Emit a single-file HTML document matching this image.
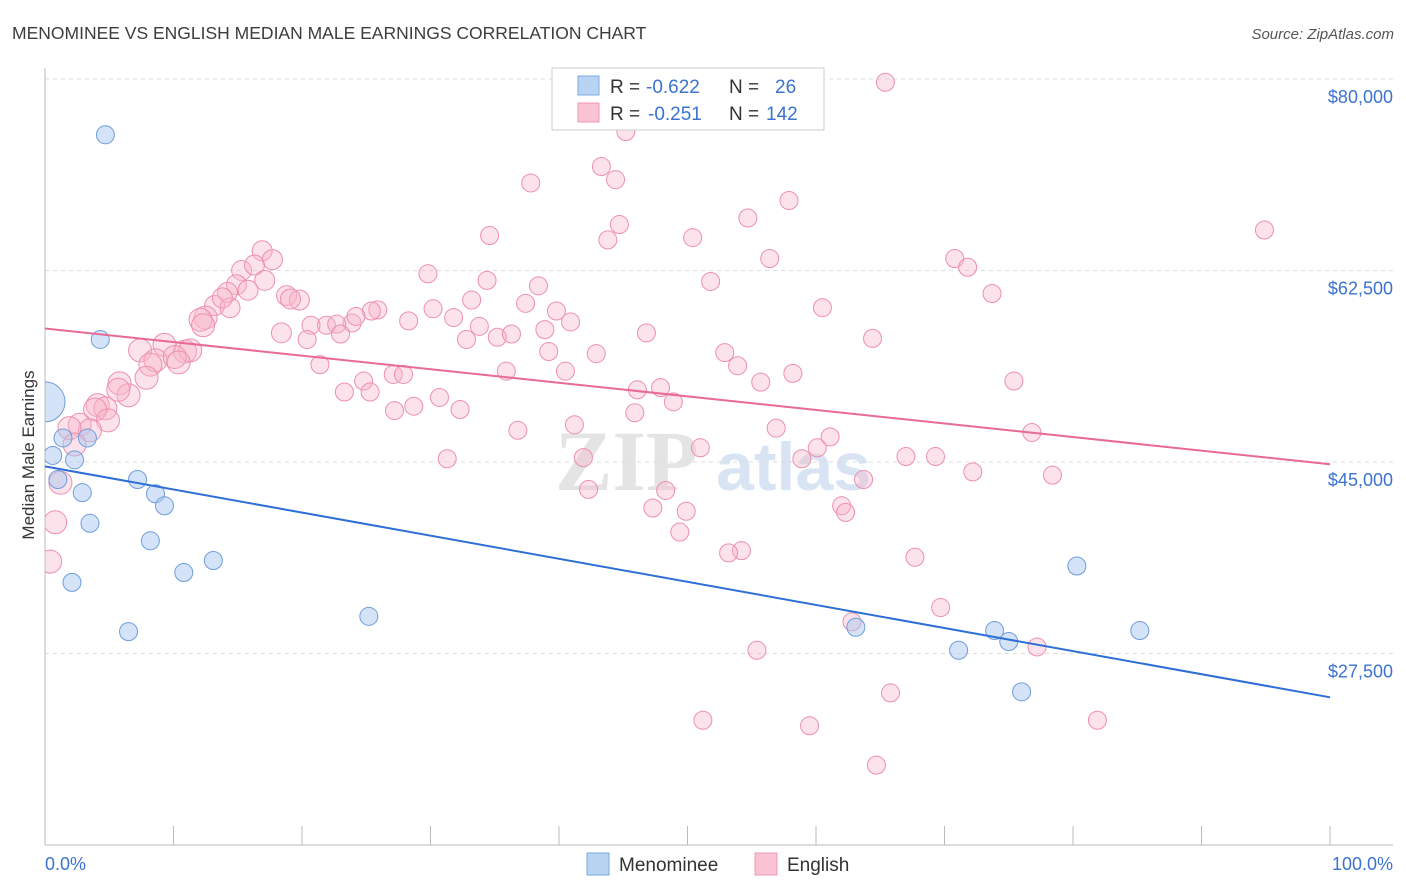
<!DOCTYPE html>
<html><head><meta charset="utf-8"><style>
body{margin:0;background:#fff;font-family:"Liberation Sans",sans-serif;}
svg{display:block}
</style></head><body>
<svg id="chart" width="1406" height="892" viewBox="0 0 1406 892">
<defs><clipPath id="plotclip"><rect x="45" y="60" width="1361" height="785"/></clipPath></defs>
<text x="12" y="39" font-size="17.5" fill="#3d3d3d">MENOMINEE VS ENGLISH MEDIAN MALE EARNINGS CORRELATION CHART</text>
<text x="1394" y="39" font-size="15" fill="#555" font-style="italic" text-anchor="end">Source: ZipAtlas.com</text>
<g><text x="555" y="490" font-size="86" fill="#e4e4e4" font-family="Liberation Serif" font-weight="bold">ZIP</text><text x="716" y="490" font-size="68" fill="#d8e4f4" font-weight="bold">atlas</text></g>
<g id="grid"></g>
<g id="axes"></g>
<g id="pts" clip-path="url(#plotclip)"></g>
<g id="lines"></g>
<text transform="translate(34,455) rotate(-90)" font-size="17" fill="#333" text-anchor="middle">Median Male Earnings</text>
<g>
<rect x="552" y="68" width="272" height="62" fill="#fff" stroke="#ccc"/>
<rect x="578" y="76" width="21" height="19" fill="#b9d3f3" stroke="#7fa8e0"/>
<rect x="578" y="103" width="21" height="19" fill="#f9c3d3" stroke="#ee97b4"/>
<text x="610" y="93" font-size="19" fill="#333">R = <tspan x="646" fill="#3b73d1">-0.622</tspan><tspan x="729">N = </tspan><tspan x="775" fill="#3b73d1">26</tspan></text>
<text x="610" y="120" font-size="19" fill="#333">R = <tspan x="648" fill="#3b73d1">-0.251</tspan><tspan x="729">N = </tspan><tspan x="766" fill="#3b73d1">142</tspan></text>
</g>
<g>
<rect x="587" y="853" width="22" height="22" fill="#b9d3f3" stroke="#7fa8e0"/>
<text x="619" y="871" font-size="19" fill="#333">Menominee</text>
<rect x="755" y="853" width="22" height="22" fill="#f9c3d3" stroke="#ee97b4"/>
<text x="787" y="871" font-size="19" fill="#333">English</text>
</g>
<text x="45" y="870" font-size="18" fill="#3b73d1">0.0%</text>
<text x="1393" y="870" font-size="18" fill="#3b73d1" text-anchor="end">100.0%</text>
</svg>
<script>
const yTicks=[80000,62500,45000,27500];
const yTickLabels=["$80,000","$62,500","$45,000","$27,500"];
const xTicks=[0,10,20,30,40,50,60,70,80,90,100];
const menX=[0,0.6,1.4,1.0,2.3,3.3,2.9,3.5,2.1,4.7,4.3,6.5,7.2,8.6,8.2,9.3,10.8,13.1,25.2,63.1,71.1,73.9,75.0,76.0,80.3,85.2];
const menY=[50.5,45.6,47.2,43.4,45.2,47.2,42.2,39.4,34.0,74.9,56.2,29.5,43.4,42.1,37.8,41.0,34.9,36.0,30.9,29.9,27.8,29.6,28.6,24.0,35.5,29.6];
const engX=[65.4,45.2,43.3,44.4,37.8,57.9,54.7,44.7,43.8,34.6,50.4,94.9,16.9,17.7,56.4,70.8,71.8,29.8,34.4,38.4,51.8,15.3,16.3,14.9,15.8,14.2,13.2,14.4,13.8,12.5,12.1,18.8,19.8,33.2,37.4,39.8,30.2,25.9,25.4,23.9,24.2,21.9,22.7,20.7,18.4,20.4,23.0,28.3,31.8,33.8,40.9,38.9,32.8,35.2,36.3,46.8,60.5,73.7,64.4,12.3,9.3,10.9,11.3,7.4,8.6,10.1,10.4,8.2,7.9,5.8,6.5,5.7,4.1,4.7,3.9,4.9,2.7,3.5,1.9,2.3,1.2,0.8,0.4,21.4,27.1,27.9,24.8,25.3,23.3,27.2,28.7,32.3,30.7,35.9,39.2,42.9,40.5,52.9,53.9,55.7,58.2,46.1,47.9,48.9,45.9,75.4,41.2,36.8,31.3,41.9,42.3,51.0,56.9,61.1,60.1,58.9,76.8,63.7,67.0,69.3,72.2,78.4,47.3,48.3,49.9,49.4,54.2,53.2,62.0,62.3,67.7,69.7,62.8,55.4,77.2,65.8,51.2,59.5,81.9,64.7,19.1,17.1];
const engY=[79.7,75.2,72.0,70.8,70.5,68.9,67.3,66.7,65.3,65.7,65.5,66.2,64.3,63.5,63.6,63.6,62.8,62.2,61.6,61.1,61.5,62.5,63.0,61.2,60.7,60.5,59.3,59.1,60.0,58.2,58.0,60.2,59.8,59.8,59.5,58.8,59.0,58.9,58.8,57.7,58.3,57.5,57.6,57.5,56.8,56.2,56.7,57.9,58.2,57.4,57.8,57.1,56.2,56.4,56.7,56.8,59.1,60.4,56.3,57.5,55.7,55.1,55.2,55.2,54.3,54.6,54.1,53.9,52.7,52.2,51.1,51.6,50.2,49.9,49.8,48.8,48.4,47.9,48.1,46.6,43.1,39.5,35.9,53.9,53.0,53.0,52.4,51.4,51.4,49.7,50.1,49.8,50.9,53.3,55.1,54.9,53.3,55.0,53.8,52.3,53.1,51.6,51.8,50.5,49.5,52.4,48.4,47.9,45.3,45.4,42.5,46.3,48.1,47.3,46.3,45.3,47.7,43.4,45.5,45.5,44.1,43.8,40.8,42.4,40.5,38.6,36.9,36.7,41.0,40.4,36.3,31.7,30.4,27.8,28.1,23.9,21.4,20.9,21.4,17.3,59.9,61.6];
const menTrend=[44.6,23.5];
const engTrend=[57.2,44.8];

const NS="http://www.w3.org/2000/svg";
const X=p=>45+p*12.85;
const Y=v=>79+(80-v)/0.09138;
function mk(tag,attrs,parent){const e=document.createElementNS(NS,tag);for(const k in attrs)e.setAttribute(k,attrs[k]);parent.appendChild(e);return e;}
const grid=document.getElementById('grid'),axes=document.getElementById('axes'),pts=document.getElementById('pts'),lines=document.getElementById('lines');
yTicks.forEach((t,i)=>{
  const y=Y(t/1000);
  const l=mk('line',{x1:45,x2:1393,y1:y,y2:y,stroke:'#dcdcdc','stroke-dasharray':'4,4'},grid);
  
  
  const tx=mk('text',{x:1393,y:y+24,'font-size':18,fill:'#3b73d1','text-anchor':'end'},grid);
  tx.textContent=yTickLabels[i];
  
  
});
const al=mk('line',{x1:45,x2:1393,y1:845,y2:845,stroke:'#bbb'},axes);


const yl=mk('line',{x1:45,x2:45,y1:68,y2:845,stroke:'#bbb'},axes);


xTicks.forEach(t=>{
  const tk=mk('line',{x1:X(t),x2:X(t),y1:826,y2:845,stroke:'#bbb'},axes);
  
  
});
engX.forEach((x,i)=>{
  const r=x<13?11.5:(x<20?10:9);
  const c=mk('circle',{cx:X(x),cy:Y(engY[i]),r:r,fill:'#f7b6ca','fill-opacity':0.4,stroke:'#ee8fae','stroke-width':1},pts);
  
  
});
menX.forEach((x,i)=>{
  const r=i===0?20:9;
  const c=mk('circle',{cx:X(x),cy:Y(menY[i]),r:r,fill:'#a9c8f0','fill-opacity':0.5,stroke:'#6e9ddd','stroke-width':1},pts);
  
  
});
const bl=mk('line',{x1:X(0),y1:Y(menTrend[0]),x2:X(100),y2:Y(menTrend[1]),stroke:'#2d6fd6','stroke-width':2},lines);


const pl=mk('line',{x1:X(0),y1:Y(engTrend[0]),x2:X(100),y2:Y(engTrend[1]),stroke:'#e86a95','stroke-width':2},lines);


</script>
</body></html>
